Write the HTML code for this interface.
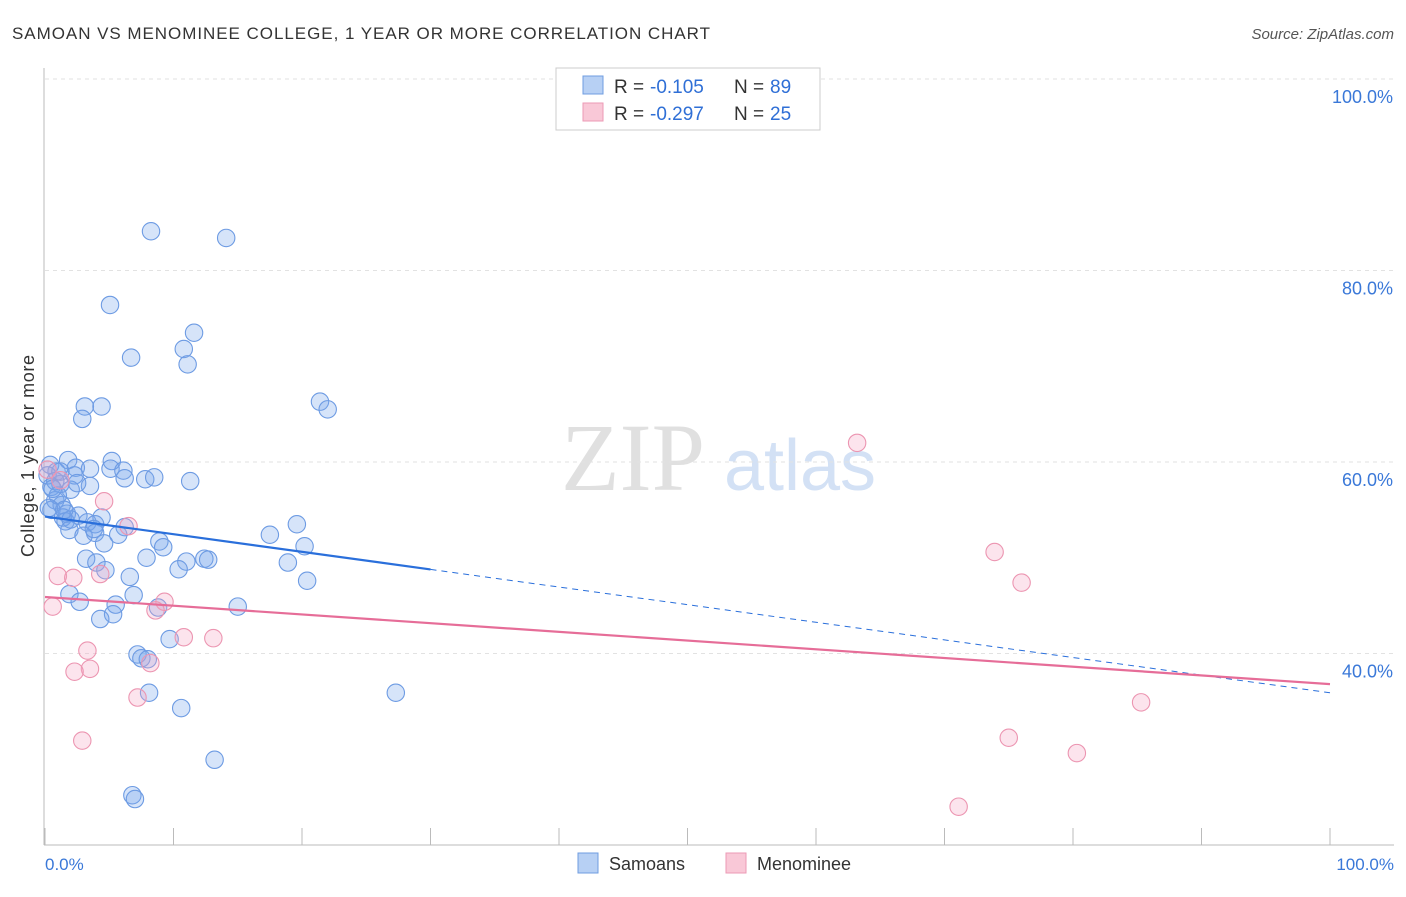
<!DOCTYPE html>
<html><head><meta charset="utf-8"><style>
body{margin:0;background:#fff;font-family:"Liberation Sans",sans-serif;}
</style></head><body>
<svg width="1406" height="892" xmlns="http://www.w3.org/2000/svg" id="svg">
<text x="12" y="39" font-size="17" fill="#333" textLength="698">SAMOAN VS MENOMINEE COLLEGE, 1 YEAR OR MORE CORRELATION CHART</text>
<text x="1394" y="39" font-size="15" fill="#555" font-style="italic" text-anchor="end">Source: ZipAtlas.com</text>
<text x="633" y="490" font-size="96" fill="#e0e0e0" font-family="Liberation Serif" text-anchor="middle">ZIP</text>
<text x="800" y="490" font-size="72" fill="#d3e1f5" text-anchor="middle">atlas</text>
<g id="grid"></g>
<line x1="44" y1="68" x2="44" y2="845" stroke="#bbb"/>
<line x1="44" y1="845" x2="1394" y2="845" stroke="#bbb"/>
<g id="marks"></g>
<text x="34" y="456" font-size="18" fill="#333" text-anchor="middle" textLength="202" transform="rotate(-90 34 456)">College, 1 year or more</text>
<text x="45" y="870" font-size="17" fill="#3a78d8">0.0%</text>
<text x="1394" y="870" font-size="17" fill="#3a78d8" text-anchor="end">100.0%</text>
<g>
<rect x="556" y="68" width="264" height="62" fill="#fff" stroke="#ccc"/>
<rect x="583" y="76" width="20" height="18" fill="#b7d0f4" stroke="#6f9de0"/>
<rect x="583" y="103" width="20" height="18" fill="#f9c8d7" stroke="#ec9ab5"/>
<text x="614" y="93" font-size="19" fill="#333">R = </text>
<text x="650" y="93" font-size="19" fill="#2f6fd6">-0.105</text>
<text x="734" y="93" font-size="19" fill="#333">N = </text>
<text x="770" y="93" font-size="19" fill="#2f6fd6">89</text>
<text x="614" y="120" font-size="19" fill="#333">R = </text>
<text x="650" y="120" font-size="19" fill="#2f6fd6">-0.297</text>
<text x="734" y="120" font-size="19" fill="#333">N = </text>
<text x="770" y="120" font-size="19" fill="#2f6fd6">25</text>
</g>
<g>
<rect x="578" y="853" width="20" height="20" fill="#b7d0f4" stroke="#6f9de0"/>
<text x="609" y="870" font-size="18" fill="#333">Samoans</text>
<rect x="726" y="853" width="20" height="20" fill="#f9c8d7" stroke="#ec9ab5"/>
<text x="757" y="870" font-size="18" fill="#333">Menominee</text>
</g>
</svg>
<script>
const yTicks=[40,60,80,100];
const xTickVals=[0,10,20,30,40,50,60,70,80,90,100];
const samoanX=[8.25,14.1,5.06,11.6,10.8,6.7,11.1,21.4,22.0,3.1,4.4,2.9,1.8,5.2,0.4,2.4,3.5,5.1,6.1,0.9,2.3,6.2,7.8,8.5,11.3,1.2,3.5,0.5,2.0,0.8,1.3,0.5,1.7,2.6,1.4,4.4,1.6,3.3,3.9,6.2,19.6,1.9,3.9,5.7,3.0,17.5,8.9,4.6,9.2,20.2,7.9,3.2,12.4,12.7,11.0,18.9,4.0,4.7,10.4,6.6,20.4,1.9,6.9,2.7,5.5,15.0,8.8,5.3,4.3,9.7,7.2,7.5,8.0,8.1,27.3,10.6,13.2,6.8,7.0,0.2,0.8,1.0,0.3,2.0,1.2,0.6,3.8,2.5,1.5];
const samoanY=[84.1,83.4,76.4,73.5,71.8,70.9,70.2,66.3,65.5,65.8,65.8,64.5,60.2,60.1,59.7,59.4,59.3,59.3,59.1,59.0,58.6,58.3,58.2,58.4,58.0,57.7,57.5,57.4,57.1,56.0,55.5,55.0,54.6,54.4,54.2,54.2,53.8,53.7,53.5,53.2,53.5,52.9,52.6,52.4,52.3,52.4,51.7,51.5,51.1,51.2,50.0,49.9,49.9,49.8,49.6,49.5,49.5,48.7,48.8,48.0,47.6,46.2,46.1,45.4,45.1,44.9,44.8,44.1,43.6,41.5,39.9,39.5,39.4,35.9,35.9,34.3,28.9,25.2,24.8,58.6,58.0,56.5,55.2,54.0,59.0,57.2,53.0,57.8,55.0];
const menomX=[63.2,73.9,76.0,85.3,75.0,80.3,71.1,4.6,6.5,1.0,2.2,4.3,9.3,8.6,0.6,10.8,13.1,3.3,3.5,2.3,8.2,7.2,2.9,0.2,1.2];
const menomY=[62.0,50.6,47.4,34.9,31.2,29.6,24.0,55.9,53.3,48.1,47.9,48.3,45.4,44.5,44.9,41.7,41.6,40.3,38.4,38.1,39.0,35.4,30.9,59.2,58.1];
const samoanTrend=[54.3,35.9];
const menomTrend=[45.9,36.8];
const NS="http://www.w3.org/2000/svg";
const xS=v=>45+v*12.85, yS=v=>79+(100-v)*9.575;
const grid=document.getElementById('grid'), marks=document.getElementById('marks');
function mk(tag,attrs,parent){const e=document.createElementNS(NS,tag);for(const k in attrs)e.setAttribute(k,attrs[k]);parent.appendChild(e);return e;}
yTicks.forEach(t=>{
 const l=mk('line',{x1:45,x2:1394,y1:yS(t),y2:yS(t),stroke:'#e2e2e2','stroke-dasharray':'4 4'},grid);
 
 
 const tx=mk('text',{x:1393,y:yS(t)+24,'font-size':18,fill:'#3a78d8','text-anchor':'end'},grid);
 tx.textContent=t.toFixed(1)+'%';
 
 
});
xTickVals.forEach(t=>{
 const l=mk('line',{x1:xS(t),x2:xS(t),y1:828,y2:845,stroke:'#bbb'},grid);
 
 
});
samoanX.forEach((x,i)=>{
 const c=mk('circle',{cx:xS(x),cy:yS(samoanY[i]),r:8.7,fill:'rgba(120,165,235,0.3)',stroke:'#6d9be3','stroke-width':1.1},marks);
 
 
});
menomX.forEach((x,i)=>{
 const c=mk('circle',{cx:xS(x),cy:yS(menomY[i]),r:8.7,fill:'rgba(245,165,195,0.3)',stroke:'#ec95b1','stroke-width':1.1},marks);
 
 
});
const sy=x=>samoanTrend[0]+(samoanTrend[1]-samoanTrend[0])*x/100;
const my=x=>menomTrend[0]+(menomTrend[1]-menomTrend[0])*x/100;
let t1=mk('line',{x1:xS(0),y1:yS(sy(0)),x2:xS(30),y2:yS(sy(30)),stroke:'#2a6fdb','stroke-width':2.2},marks);


let t2=mk('line',{x1:xS(30),y1:yS(sy(30)),x2:xS(100),y2:yS(sy(100)),stroke:'#2a6fdb','stroke-width':1,'stroke-dasharray':'6 5'},marks);


let t3=mk('line',{x1:xS(0),y1:yS(my(0)),x2:xS(100),y2:yS(my(100)),stroke:'#e66d98','stroke-width':2.2},marks);


</script>
</body></html>
